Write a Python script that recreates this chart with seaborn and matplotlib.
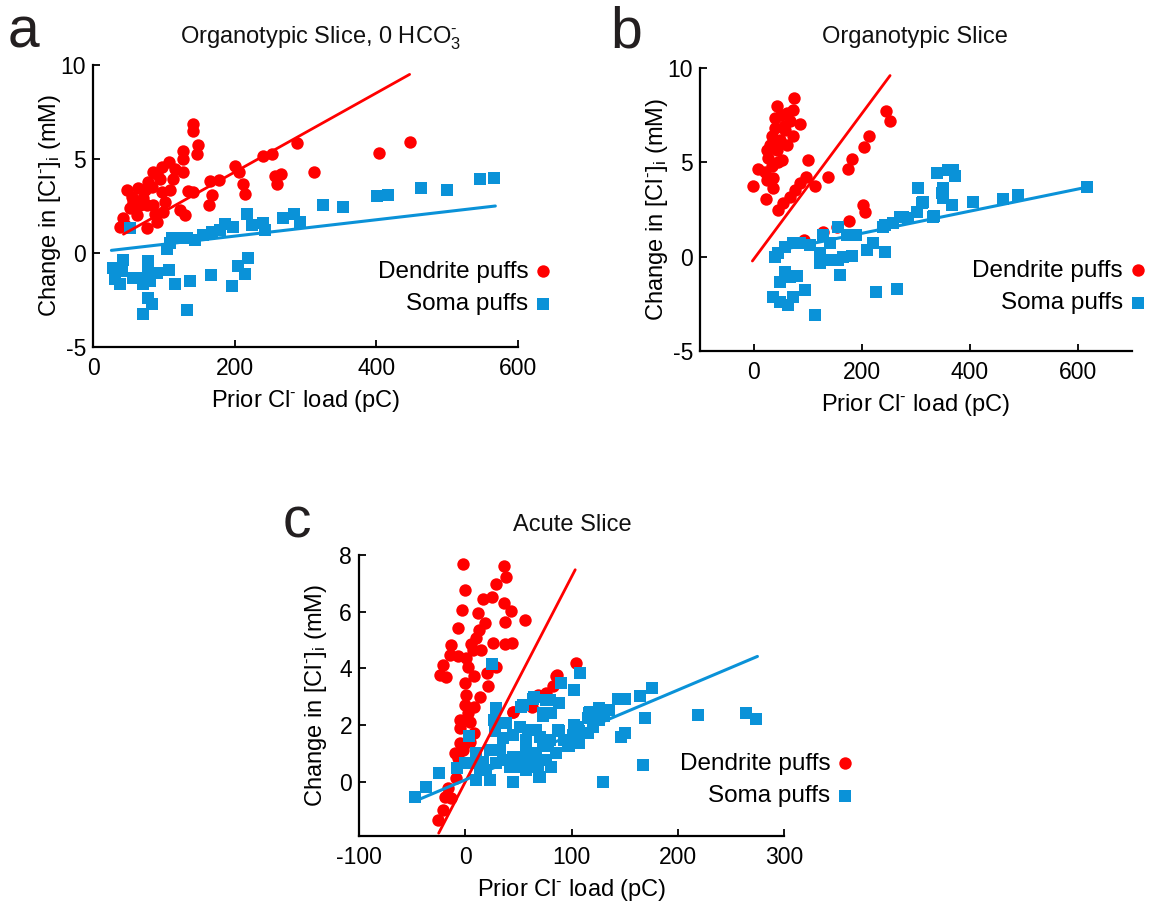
import numpy as np
import pandas as pd
import matplotlib
matplotlib.use("Agg")
import matplotlib.pyplot as plt
import seaborn as sns

# ---------------- data ----------------
# Panel a: Organotypic Slice, 0 HCO3-
a_dend_x = [140.7, 140.7, 148.7, 147.3, 127.5, 126.6, 126.6, 107.8, 97, 85.2, 113.4, 94.6,
            64, 73.4, 82.8, 54.6, 71, 97, 101.6, 85.2, 52.2, 42.8, 38, 61.7, 75.8, 90, 99.3,
            87.5, 66.4, 56.9, 122.8, 129.9, 134.6, 141.6, 165.2, 178.3, 167.6, 164.2, 200.5,
            206.6, 212.2, 214.6, 240.4, 252.3, 288.4, 257, 265, 260.2, 312, 115.8, 108.7,
            403.8, 447.6, 47.5, 78, 90, 75.8, 45.2]
a_dend_y = [6.84, 6.49, 5.74, 5.26, 5.44, 5.0, 4.33, 4.82, 4.56, 4.3, 3.95, 3.95,
            3.46, 3.33, 3.51, 2.98, 2.9, 3.25, 2.72, 2.54, 2.37, 1.88, 1.4, 2.02, 1.35, 1.67, 2.19,
            2.1, 2.54, 2.72, 2.28, 2.02, 3.28, 3.25, 3.81, 3.86, 3.07, 2.54, 4.65,
            4.3, 3.68, 3.16, 5.17, 5.26, 5.84, 4.12, 4.21, 3.68, 4.3, 4.47, 3.33,
            5.3, 5.93, 3.33, 3.77, 4.2, 2.54, 1.49]
a_soma_x = [52.2, 111, 120.5, 132.3, 144, 155.7, 167.6, 179.3, 186.4, 198.1, 217, 224, 240.4,
            242.8, 268.7, 283.8, 292.3, 325.2, 104, 42.8, 28.7, 40.5, 31, 38.1, 57, 68.8, 78.1,
            78.1, 90, 80.5, 71, 107.3, 115.8, 137, 78.1, 82.8, 71, 133.2, 166.2, 195.8, 205.2,
            214.6, 219.3, 108.7, 353.4, 400.5, 417, 462.7, 499.4, 546.4, 566]
a_soma_y = [1.35, 0.79, 0.82, 0.79, 0.7, 0.96, 1.14, 1.23, 1.53, 1.4, 2.1, 1.49, 1.58,
            1.23, 1.84, 2.1, 1.67, 2.54, 0.23, -0.35, -0.79, -0.96, -1.4, -1.67, -1.32, -1.32, -0.44,
            -0.96, -1.05, -1.49, -1.67, -0.88, -1.67, -1.49, -2.37, -2.72, -3.25, -3.04, -1.18, -1.75, -0.7,
            -1.1, -0.26, 0.53, 2.44, 3.04, 3.07, 3.46, 3.33, 3.95, 3.98]
a_dend_fit_x = [43, 447]
a_dend_fit_y = [1.0, 9.5]
a_soma_fit_x = [26, 568]
a_soma_fit_y = [0.14, 2.5]

# Panel b: Organotypic Slice
b_dend_x = [74.7, 42, 72.8, 38.9, 66.7, 85.2, 38.9, 57.4, 72.8, 32.7, 48.1, 60.5, 23.5, 42,
            26.5, 51.3, 8, 32.7, 20.4, 35.8, -1.2, 35.8, 22.2, 45, 54.3, 66.7, 75.9, 85.2, 96.3,
            100.6, 113, 137.6, 173.5, 180.9, 204.3, 213.6, 244.4, 251.9, 202.5, 205.6, 176.5,
            153.1, 127.2, 92.6, 23.5, 30, 50, 62, 45, 55]
b_dend_y = [8.41, 7.96, 7.79, 7.35, 7.17, 7.04, 6.81, 6.73, 6.37, 6.37, 6.19, 5.93, 5.66, 5.66,
            5.22, 5.13, 4.64, 4.78, 4.51, 4.16, 3.72, 3.63, 3.05, 2.48, 2.83, 3.18, 3.54, 3.9, 4.21,
            5.1, 3.72, 4.21, 4.67, 5.2, 5.8, 6.37, 7.7, 7.17, 2.74, 2.39, 1.89,
            1.59, 1.33, 0.89, 4.07, 5.9, 7.5, 7.6, 5.0, 6.9]
b_soma_x = [38.9, 57.4, 72.8, 85.2, 103.7, 128.3, 140.7, 156.2, 171.6, 188.9, 122.2, 122.2, 134.6,
            156.2, 165.4, 180.9, 159.3, 208.6, 219.8, 242.6, 242.6, 258, 270.4, 285.7, 301.2, 310.4,
            304.3, 338.3, 347.6, 332.1, 359.8, 57.4, 66.7, 48.1, 79, 94.4, 35.8, 48.1, 63.5, 72.8,
            113, 225.9, 264.3, 45, 368, 372.2, 350.6, 350.6, 312.4, 366, 405, 461.7, 489.5, 616.1,
            276.5, 333.3, 239.5]
b_soma_y = [0, 0.53, 0.71, 0.74, 0.62, 1.15, 0.74, 1.59, 1.15, 1.15, 0.18, -0.35, -0.18,
            -0.18, 0, 0.04, -0.97, 0.36, 0.71, 0.27, 1.68, 1.77, 2.12, 2.04, 2.39, 2.87,
            3.63, 4.46, 3.36, 2.12, 4.6, -0.8, -1.06, -1.33, -1.02, -1.77, -2.12, -2.39, -2.56, -2.16,
            -3.09, -1.89, -1.73, 0.18, 4.6, 4.25, 3.63, 3.1, 2.92, 2.74, 2.92, 3.05, 3.27, 3.68,
            2.12, 2.16, 1.59]
b_dend_fit_x = [-3, 252]
b_dend_fit_y = [-0.23, 9.6]
b_soma_fit_x = [45, 616]
b_soma_fit_y = [0.33, 3.68]

# Panel c: Acute Slice
c_dend_x = [-2.3, 36, 37.9, -0.7, 28.5, 16.6, 25.4, -2.8, 11.9, 36, 43.3, 37, 55.8, 18.2, -7,
            12.8, 10.3, 26, 37, 44.2, -13.2, 5.6, 7.1, -14.8, -7, 0.3, 15, -21.1, -24.2, -17.9,
            2.4, 8.7, 20.3, 28.5, -0.7, 21.3, 0.3, 13.5, -0.7, 8.7, 2.4, -5.4, -5.4, 4, 8.7,
            -5.4, -10.1, -2.3, -7, 4, -9.1, -16.4, -19.5, -13.2, -21.1, -25.8, 44.8, 62.1, 82.4,
            85.6, 104.4, 76.2, 86.2, 73, 68.3, 63, 52.7, 44.8]
c_dend_y = [7.69, 7.6, 7.24, 6.77, 6.97, 6.45, 6.5, 6.07, 5.97, 6.3, 6.01, 5.65, 5.71, 5.6, 5.42,
            5.36, 5.07, 4.89, 4.87, 4.91, 4.83, 4.87, 4.65, 4.48, 4.42, 4.36, 4.65, 4.12, 3.77, 3.71,
            4.06, 3.73, 3.83, 4.06, 3.48, 3.36, 3.06, 3.0, 2.71, 2.65, 2.42, 2.18, 1.89, 2.12, 1.71,
            1.36, 1.0, 1.12, 0.83, 1.41, 0.12, -0.23, -0.53, -0.59, -1.0, -1.35, 2.44, 2.71, 3.38,
            3.73, 4.18, 3.12, 3.77, 3.0, 3.06, 2.63, 2.71, 2.47]
c_soma_x = [25.4, -47.7, -36.7, -24.8, -7.9, 3.4, 10.3, 10.3, 19.8, 29.2, 26.6, 38.6, 27.6, 32.3,
            44.8, 29.2, 41.7, 51.1, 44.8, 54.2, 64.3, 76.2, 88.1, 73, 58.9, 66.8, 57.4, 66.8, 77.7,
            66.8, 80.9, 69.9, 57.4, 90.3, 101.9, 108.2, 88.7, 102.8, 98.1, 107.5, 116.9, 120,
            16.6, 4, 63.6, 79.3, 73, 80.9, 52.7, 87.1, 117.6, 126.3, 135.7, 143.6, 150.8,
            164, 175.9, 169.3, 146.8, 149.9, 126.3, 131, 115.3, 101.2, 107.5, 93.4, 79.3, 96.5,
            85.6, 73, 63.6, 76.2, 80.9, 68.3, 57.4, 51.1, 44.8, 35.4, 69.2, 129.4, 167.7,
            218.8, 264.3, 273.8, 35.4, 57.4, 69.9, 51.1, 115.3, 105.9, 22.9, 13.5, 22.9, -0.7]
c_soma_y = [4.16, -0.53, -0.2, 0.32, 0.47, 1.61, 1.0, 0.06, 0.41, 2.59, 2.18, 2.06, 1.77, 1.12,
            1.65, 0.65, 0.53, 0.88, 0, 2.71, 3.0, 2.89, 2.79, 2.42, 1.83, 1.83, 1.12, 0.88, 1.24,
            0.65, 0.53, 0.18, 0.41, 3.48, 3.24, 3.83, 1.77, 2.0, 1.24, 1.77, 2.42, 1.94,
            0.71, 0.65, 2.91, 2.89, 2.3, 2.42, 2.63, 1.83, 2.47, 2.59, 2.53, 2.91, 2.91,
            3.03, 3.3, 2.24, 1.59, 1.71, 2.18, 2.3, 1.71, 1.65, 1.36, 1.47, 1.47, 1.24,
            1.0, 1.24, 1.0, 0.77, 0.53, 0.53, 0.77, 0.53, 0.88, 0.77, 0.18, 0, 0.59,
            2.36, 2.42, 2.2, 1.53, 1.47, 1.59, 1.94, 2.24, 1.94, 1.12, 0.47, 0.06, 0.65]
c_dend_fit_x = [-25, 103.5]
c_dend_fit_y = [-1.82, 7.48]
c_soma_fit_x = [-48, 275]
c_soma_fit_y = [-0.7, 4.42]

# tick labels
a_xticks = [0, 200, 400, 600]
a_yticks = [-5, 0, 5, 10]
b_xticks = [0, 200, 400, 600]
b_yticks = [-5, 0, 5, 10]
c_xticks = [-100, 0, 100, 200, 300]
c_yticks = [0, 2, 4, 6, 8]

titles = ["Organotypic Slice, 0 HCO$_3^{\\text{-}}$", "Organotypic Slice", "Acute Slice"]
letters = ["a", "b", "c"]
dend_label = "Dendrite puffs"
soma_label = "Soma puffs"
xlab = "Prior Cl$^{\\text{-}}$ load (pC)"
ylab = "Change in [Cl$^{\\text{-}}$]$_{\\text{i}}$ (mM)"

# ---------------- style ----------------
sns.set_theme(style="ticks")
plt.rcParams['font.family'] = ['Liberation Sans', 'DejaVu Sans']
plt.rcParams['mathtext.fontset'] = 'custom'
plt.rcParams['mathtext.rm'] = 'Liberation Sans'
plt.rcParams['mathtext.it'] = 'Liberation Sans:italic'
plt.rcParams['mathtext.bf'] = 'Liberation Sans:bold'
plt.rcParams['mathtext.default'] = 'regular'
plt.rcParams['text.color'] = 'black'
plt.rcParams['axes.labelcolor'] = 'black'

RED = '#FF0000'
BLUE = '#0A92D8'
W, H = 1153, 908
fig = plt.figure(figsize=(W / 100, H / 100), dpi=100)


def px_axes(l, t, r, b):
    return fig.add_axes([l / W, 1 - b / H, (r - l) / W, (b - t) / H])


def panel(ax, dx, dy, sx, sy, fdx, fdy, fsx, fsy, xlim, ylim, xt, yt, leg_xy):
    dd = pd.DataFrame({"x": dx, "y": dy})
    ss = pd.DataFrame({"x": sx, "y": sy})
    sns.scatterplot(data=dd, x="x", y="y", ax=ax, color=RED, marker='o', s=80,
                    linewidth=0, label=dend_label, zorder=2)
    sns.scatterplot(data=ss, x="x", y="y", ax=ax, color=BLUE, marker='s', s=74,
                    linewidth=0, label=soma_label, zorder=3)
    sns.lineplot(x=fdx, y=fdy, ax=ax, color=RED, lw=2.0, zorder=4)
    sns.lineplot(x=fsx, y=fsy, ax=ax, color=BLUE, lw=2.2, zorder=4)
    ax.set_xlim(*xlim)
    ax.set_ylim(*ylim)
    ax.set_xticks(xt)
    ax.set_yticks(yt)
    ax.set_xticklabels([str(v) for v in xt])
    ax.set_yticklabels([str(v) for v in yt])
    sns.despine(ax=ax)
    for sp in ['left', 'bottom']:
        ax.spines[sp].set_linewidth(1.6)
        ax.spines[sp].set_color('black')
    ax.tick_params(direction='in', length=5, width=1.3, colors='black',
                   labelsize=16.5)
    ax.tick_params(axis='x', pad=7)
    ax.tick_params(axis='y', pad=5)
    ax.set_xlabel(xlab, fontsize=17, color='black', labelpad=6)
    ax.set_ylabel(ylab, fontsize=17, color='black')
    wpx = ax.get_position().width * W
    ax.yaxis.set_label_coords(-30 / wpx, 0.5)
    ax.grid(False)
    ax.set_facecolor('white')
    leg = ax.legend(loc='center right', bbox_to_anchor=(leg_xy[0] / W, 1 - leg_xy[1] / H),
                    bbox_transform=fig.transFigure, frameon=False, markerfirst=False,
                    fontsize=17.5, handlelength=0.6, handletextpad=0.3,
                    labelspacing=0.45, borderpad=0, borderaxespad=0)
    for t in leg.get_texts():
        t.set_ha('right')
        t.set_color('black')
    return ax


axa = px_axes(93, 65, 518, 347)
panel(axa, a_dend_x, a_dend_y, a_soma_x, a_soma_y, a_dend_fit_x, a_dend_fit_y,
      a_soma_fit_x, a_soma_fit_y, (0, 600), (-5, 10), a_xticks, a_yticks, (550, 288))

axb = px_axes(700, 68, 1132, 351)
panel(axb, b_dend_x, b_dend_y, b_soma_x, b_soma_y, b_dend_fit_x, b_dend_fit_y,
      b_soma_fit_x, b_soma_fit_y, (-100, 700), (-5, 10), b_xticks, b_yticks, (1145, 287))

axc = px_axes(359, 555, 784, 836)
panel(axc, c_dend_x, c_dend_y, c_soma_x, c_soma_y, c_dend_fit_x, c_dend_fit_y,
      c_soma_fit_x, c_soma_fit_y, (-100, 300), (-1.92, 8), c_xticks, c_yticks, (852, 780))

# titles and panel letters
fig.text(321 / W, 1 - 43 / H, titles[0], ha='center', va='baseline', fontsize=17, color='#111')
fig.text(915 / W, 1 - 43 / H, titles[1], ha='center', va='baseline', fontsize=17, color='#111')
fig.text(572 / W, 1 - 531 / H, titles[2], ha='center', va='baseline', fontsize=17, color='#111')
fig.text(8 / W, 1 - 48 / H, letters[0], ha='left', va='baseline', fontsize=41, color='#231f20')
fig.text(610 / W, 1 - 48 / H, letters[1], ha='left', va='baseline', fontsize=41, color='#231f20')
fig.text(283 / W, 1 - 537 / H, letters[2], ha='left', va='baseline', fontsize=41, color='#231f20')

fig.savefig("out.png", dpi=100, facecolor='white')
